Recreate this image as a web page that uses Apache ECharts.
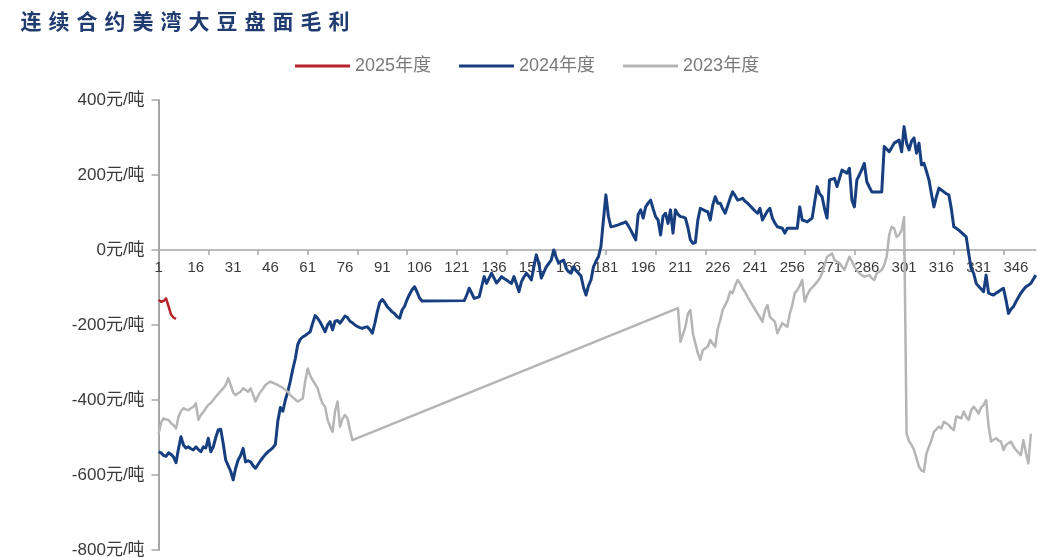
<!DOCTYPE html>
<html>
<head>
<meta charset="utf-8">
<title>连续合约美湾大豆盘面毛利</title>
<script src="https://cdn.jsdelivr.net/npm/echarts@6/dist/echarts.min.js"></script>
<style>
  html, body { margin: 0; padding: 0; background: #ffffff; }
  #chart { width: 1038px; height: 557px; }
</style>
</head>
<body>
<div id="chart"></div>
<script>
// Gross crush margin of US Gulf soybeans on continuous futures, by trading day of season (元/吨)
const titleText = '连续合约美湾大豆盘面毛利';
const seriesNames = ['2025年度', '2024年度', '2023年度'];
const dayCount = 354;
const categories = Array.from({ length: dayCount }, (_, i) => String(i + 1));
const yTicks = { min: -800, max: 400, step: 200 };

const margin2025 = [-133, -138, -136, -129, -150, -172, -180, -184];

const margin2024 = [
  -538, -541, -548, -550, -541, -545, -552, -567, -530, -498,
  -520, -528, -525, -530, -533, -525, -532, -538, -525, -528,
  -502, -538, -525, -500, -480, -478, -516, -560, -575, -590,
  -613, -582, -560, -548, -529, -565, -562, -565, -575, -582,
  -572, -562, -553, -545, -538, -533, -527, -518, -455, -420,
  -430, -400, -378, -350, -318, -290, -252, -238, -232, -228,
  -223, -218, -195, -175, -182, -192, -205, -218, -200, -191,
  -213, -190, -188, -195, -186, -176, -180, -190, -194, -200,
  -204, -207, -209, -206, -205, -212, -222, -196, -165, -140,
  -132, -140, -151, -158, -165, -170, -178, -182, -160, -150,
  -132, -118, -106, -98, -112, -128, -136, null, null, null,
  null, null, null, null, null, null, null, null, null, null,
  null, null, null, -135, -120, -102, -115, -129, -127, -125,
  -98, -71, -89, -75, -62, -75, -88, -80, -71, -76,
  -80, -85, -89, -71, -90, -111, -85, -72, -62, -70,
  -80, -45, -13, -35, -75, -60, -45, -36, -27, 0,
  -20, -35, -30, -27, -49, -58, -62, -45, -55, -62,
  -70, -100, -120, -95, -80, -45, -30, -18, 9, 80,
  147, 90, 62, 63, 65, 67, 70, 72, 75, 65,
  53, 40, 27, 95, 107, 85, 115, 125, 133, 110,
  89, 80, 40, 90, 98, 71, 107, 45, 107, 95,
  89, 88, 85, 60, 27, 18, 20, 80, 111, 108,
  104, 102, 80, 120, 142, 125, 125, 110, 98, 118,
  138, 155, 145, 133, 135, 138, 130, 125, 118, 111,
  104, 98, 111, 80, 92, 104, 111, 85, 72, 62,
  60, 58, 45, 58, 58, 58, 58, 58, 115, 80,
  78, 75, 80, 85, 127, 169, 150, 142, 110, 85,
  187, 189, 191, 169, 191, 213, 209, 205, 218, 133,
  115, 187, 200, 215, 231, 182, 168, 155, 155, 155,
  155, 155, 276, 269, 262, 273, 285, 289, 293, 262,
  329, 285, 267, 290, 299, 258, 285, 227, 231, 210,
  187, 150, 115, 142, 165, 160, 155, 150, 147, 111,
  62, 58, 53, 47, 41, 35, -9, -50, -62, -89,
  -97, -104, -111, -67, -115, -118, -120, -115, -111, -106,
  -102, -133, -169, -158, -151, -138, -126, -115, -106, -98,
  -94, -89, -78, -67
];

const margin2023 = [
  -490, -460, -449, -452, -453, -462, -467, -476, -445, -430,
  -422, -425, -427, -422, -418, -409, -453, -440, -432, -422,
  -413, -408, -400, -391, -384, -376, -369, -360, -342, -360,
  -380, -387, -382, -378, -369, -373, -378, -369, -385, -404,
  -390, -378, -370, -360, -355, -351, -354, -357, -360, -364,
  -368, -373, -378, -387, -393, -399, -404, -400, -396, -350,
  -316, -335, -347, -358, -369, -392, -410, -418, -453, -470,
  -485, -430, -404, -471, -450, -440, -449, -480, -507, null,
  null, null, null, null, null, null, null, null, null, null,
  null, null, null, null, null, null, null, null, null, null,
  null, null, null, null, null, null, null, null, null, null,
  null, null, null, null, null, null, null, null, null, null,
  null, null, null, null, null, null, null, null, null, null,
  null, null, null, null, null, null, null, null, null, null,
  null, null, null, null, null, null, null, null, null, null,
  null, null, null, null, null, null, null, null, null, null,
  null, null, null, null, null, null, null, null, null, null,
  null, null, null, null, null, null, null, null, null, null,
  null, null, null, null, null, null, null, null, null, null,
  null, null, null, null, null, null, null, null, null, null,
  null, null, null, null, null, null, null, null, null, -155,
  -245, -225, -205, -170, -160, -222, -249, -275, -293, -267,
  -262, -258, -240, -250, -258, -210, -187, -160, -147, -133,
  -111, -115, -95, -80, -89, -102, -112, -125, -136, -147,
  -158, -169, -180, -191, -160, -147, -178, -185, -191, -222,
  -208, -195, -200, -205, -170, -147, -115, -107, -95, -80,
  -138, -120, -107, -100, -93, -85, -76, -62, -40, -18,
  -14, -9, -27, -31, -35, -44, -53, -35, -18, -30,
  -45, -55, -62, -67, -71, -69, -67, -75, -80, -62,
  -58, -53, -40, -18, 40, 62, 58, 35, 40, 53,
  88, -490, -510, -520, -533, -555, -578, -588, -591, -542,
  -525, -507, -485, -478, -471, -476, -458, -462, -467, -475,
  -480, -444, -446, -449, -431, -445, -453, -427, -418, -426,
  -436, -420, -413, -400, -470, -511, -506, -502, -508, -511,
  -533, -520, -515, -511, -524, -533, -540, -547, -507, -540,
  -569, -490
];

const seriesColors = ['#b8232b', '#173f80', '#b5b5b5'];
const baseFont = '"Liberation Sans", "Noto Sans CJK SC", sans-serif';

// plot box: top edge at 400, bottom edge at -800
const gridTop = 100;
const gridBottomGap = 7;
const plotHeight = 557 - gridTop - gridBottomGap;
// shift the category axis from the bottom edge up to the zero line
const zeroShift = -plotHeight * (0 - yTicks.min) / (yTicks.max - yTicks.min);

const chart = echarts.init(document.getElementById('chart'), null, { renderer: 'canvas' });

chart.setOption({
  animation: false,
  backgroundColor: '#ffffff',
  title: {
    left: 12,
    top: 6,
    text: titleText.split('').map(c => '{c|' + c + '}').join(''),
    textStyle: {
      rich: {
        c: {
          width: 28,
          align: 'center',
          fontSize: 21,
          fontWeight: 'bold',
          color: '#1f3b70',
          fontFamily: '"Noto Sans CJK SC", sans-serif'
        }
      }
    }
  },
  legend: {
    left: 290,
    top: 52,
    icon: 'rect',
    itemWidth: 55,
    itemHeight: 3,
    itemGap: 28,
    data: seriesNames,
    textStyle: { fontSize: 18, color: '#7a7a7a', fontFamily: baseFont }
  },
  grid: {
    left: 158.6,
    right: 2.2,
    top: gridTop,
    bottom: gridBottomGap,
    containLabel: false,
    outerBoundsMode: 'none'
  },
  xAxis: {
    type: 'category',
    data: categories,
    boundaryGap: false,
    position: 'bottom',
    offset: zeroShift,
    axisLine: { onZero: false, lineStyle: { color: '#a6a6a6', width: 1.5 } },
    axisTick: { show: true, interval: 19, length: 5, lineStyle: { color: '#a6a6a6', width: 1.5 } },
    axisLabel: {
      show: true,
      interval: 14,
      margin: 10,
      fontSize: 15,
      color: '#3a3a3a',
      fontFamily: baseFont,
      hideOverlap: false
    },
    splitLine: { show: false }
  },
  yAxis: {
    type: 'value',
    min: yTicks.min,
    max: yTicks.max,
    interval: yTicks.step,
    axisLine: { show: true, lineStyle: { color: '#a6a6a6', width: 2 } },
    axisTick: { show: true, length: 7, lineStyle: { color: '#a6a6a6', width: 1.5 } },
    axisLabel: {
      margin: 14,
      fontSize: 17,
      color: '#3a3a3a',
      fontFamily: baseFont,
      formatter: '{value}元/吨'
    },
    splitLine: { show: false }
  },
  series: [
    {
      name: seriesNames[0],
      type: 'line',
      data: margin2025,
      symbol: 'none',
      lineStyle: { color: seriesColors[0], width: 2.5, join: 'round' },
      itemStyle: { color: seriesColors[0] }
    },
    {
      name: seriesNames[1],
      type: 'line',
      data: margin2024,
      symbol: 'none',
      connectNulls: true,
      lineStyle: { color: seriesColors[1], width: 3, join: 'round' },
      itemStyle: { color: seriesColors[1] }
    },
    {
      name: seriesNames[2],
      type: 'line',
      data: margin2023,
      symbol: 'none',
      connectNulls: true,
      lineStyle: { color: seriesColors[2], width: 2.5, join: 'round' },
      itemStyle: { color: seriesColors[2] }
    }
  ]
});
</script>
</body>
</html>
